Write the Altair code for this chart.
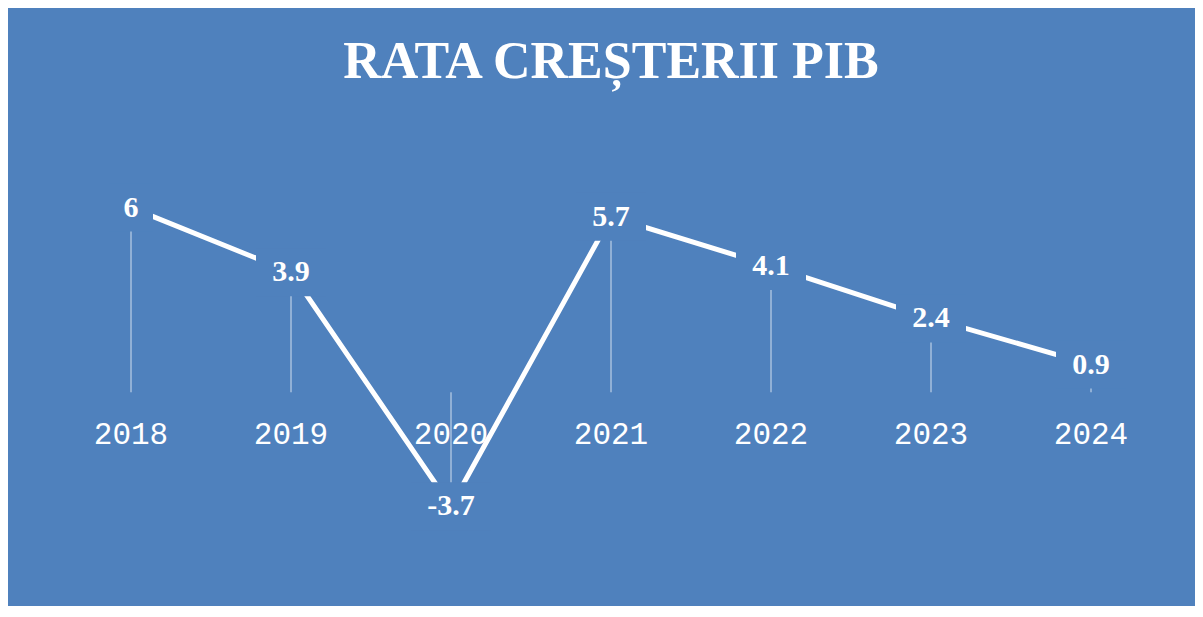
import altair as alt
import pandas as pd

years = ["2018", "2019", "2020", "2021", "2022", "2023", "2024"]
growth = [6, 3.9, -3.7, 5.7, 4.1, 2.4, 0.9]
labels = [f"{v:g}" for v in growth]
title_text = "RATA CREȘTERII PIB"

df = pd.DataFrame({"year": years, "value": growth, "label": labels})
df["zero"] = 0
df["nchar"] = df["label"].str.len()

BG = "#4F81BD"

x = alt.X("year:O", scale=alt.Scale(type="point", padding=0.5), axis=None)
y = alt.Y("value:Q", scale=alt.Scale(domain=[-6, 8], nice=False, zero=False), axis=None)
y0 = alt.Y("zero:Q", scale=alt.Scale(domain=[-6, 8], nice=False, zero=False), axis=None)

base = alt.Chart(df)

rules = base.mark_rule(color="white", strokeWidth=1, opacity=0.75).encode(
    x=x, y=y, y2="zero"
)

year_text = base.mark_text(
    color="white", font="Liberation Mono", fontSize=31, dy=43, baseline="middle"
).encode(x=x, y=y0, text="year:N")

line = base.mark_line(color="white", strokeWidth=5).encode(x=x, y=y)

box_widths = {1: 44, 3: 70, 4: 80}
boxes = [
    base.transform_filter(alt.datum.nchar == n)
    .mark_rect(color=BG, opacity=1, width=w, height=48)
    .encode(x=x, y=y)
    for n, w in box_widths.items()
]

value_text = base.mark_text(
    color="white", font="Liberation Serif", fontWeight="bold", fontSize=30, baseline="middle"
).encode(x=x, y=y, text="label:N")

chart = (
    alt.layer(rules, year_text, line, *boxes, value_text)
    .properties(
        width=1120,
        height=431,
        title=alt.Title(
            title_text,
            color="white",
            font="Liberation Serif",
            fontWeight="bold",
            fontSize=52,
            anchor="middle",
            baseline="alphabetic",
            offset=16,
        ),
        background=BG,
        padding={"left": 43, "top": 138, "right": 24, "bottom": 29},
        autosize=alt.AutoSizeParams(type="none"),
    )
    .configure_view(strokeWidth=0)
)

chart.save("out.html", embed_options={"renderer": "svg", "actions": False})
